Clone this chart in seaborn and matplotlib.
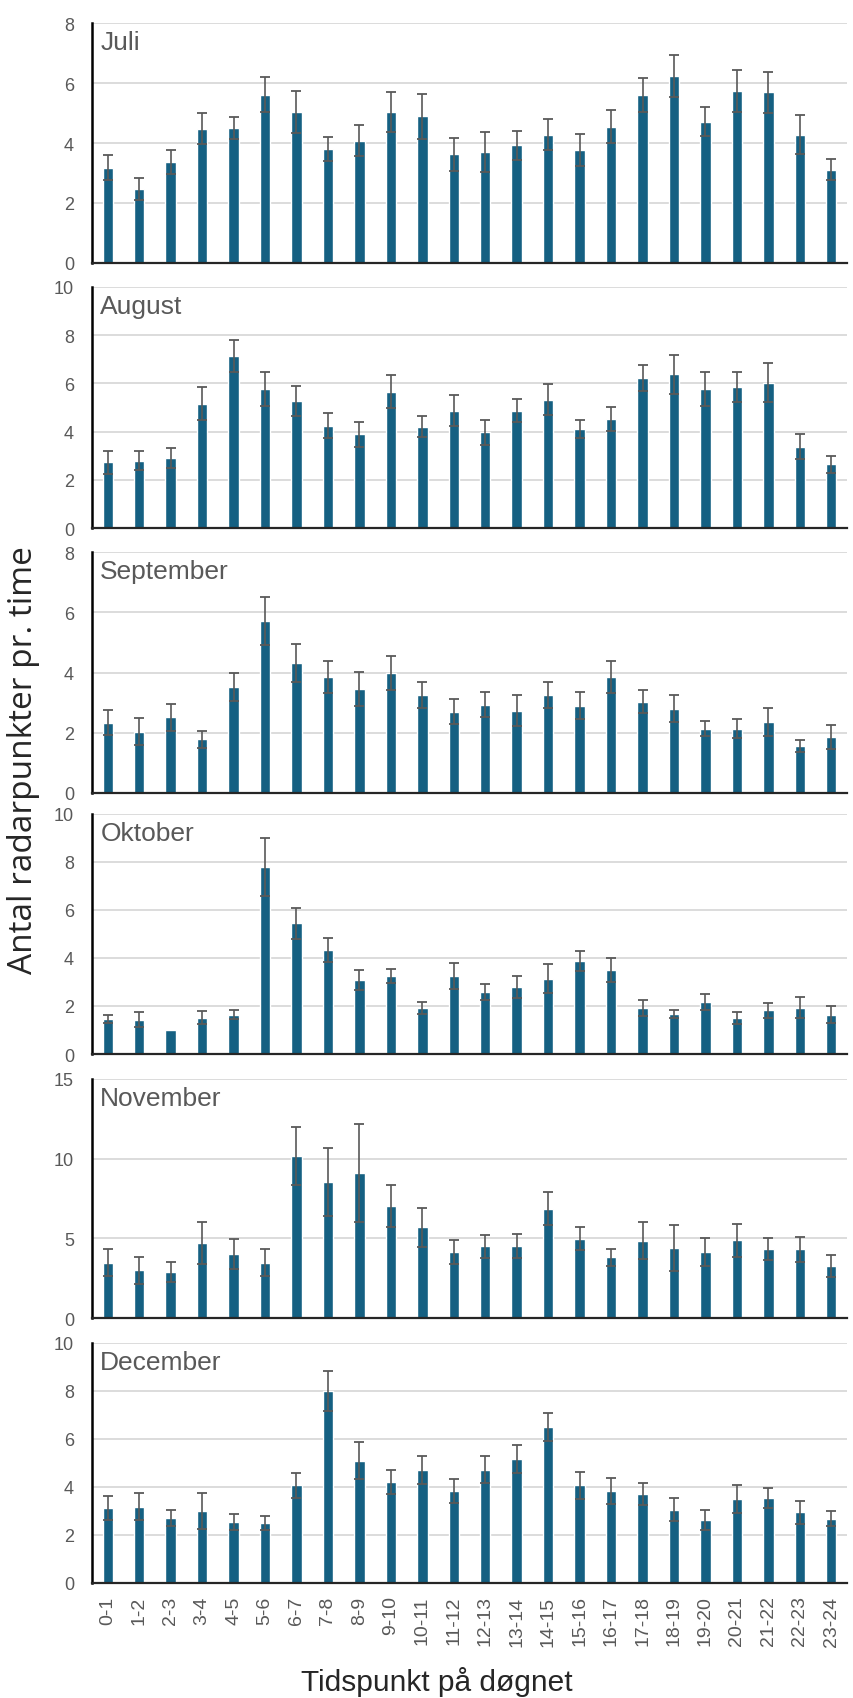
import matplotlib
matplotlib.use('Agg')
import matplotlib.pyplot as plt
import seaborn as sns
import numpy as np

sns.set_style('white')
plt.rcParams['font.family'] = ['Liberation Sans', 'DejaVu Sans']

hours = ['0-1', '1-2', '2-3', '3-4', '4-5', '5-6', '6-7', '7-8', '8-9', '9-10',
         '10-11', '11-12', '12-13', '13-14', '14-15', '15-16', '16-17', '17-18',
         '18-19', '19-20', '20-21', '21-22', '22-23', '23-24']

months = ['Juli', 'August', 'September', 'Oktober', 'November', 'December']

juli = [3.18, 2.47, 3.38, 4.48, 4.50, 5.61, 5.04, 3.81, 4.08, 5.04, 4.89, 3.62,
        3.69, 3.92, 4.28, 3.77, 4.54, 5.61, 6.24, 4.71, 5.74, 5.69, 4.28, 3.11]
juli_err = [0.42, 0.37, 0.40, 0.51, 0.37, 0.59, 0.71, 0.40, 0.52, 0.67, 0.75, 0.55,
            0.67, 0.48, 0.51, 0.53, 0.55, 0.57, 0.71, 0.49, 0.69, 0.68, 0.66, 0.35]

august = [2.72, 2.80, 2.91, 5.16, 7.14, 5.77, 5.26, 4.24, 3.88, 5.66, 4.20, 4.87,
          3.97, 4.87, 5.33, 4.12, 4.52, 6.24, 6.37, 5.77, 5.85, 6.03, 3.37, 2.64]
august_err = [0.47, 0.39, 0.43, 0.68, 0.65, 0.71, 0.62, 0.52, 0.53, 0.69, 0.43, 0.64,
              0.52, 0.48, 0.66, 0.37, 0.49, 0.54, 0.79, 0.72, 0.64, 0.81, 0.51, 0.34]

september = [2.33, 2.03, 2.52, 1.79, 3.52, 5.70, 4.30, 3.86, 3.46, 3.98, 3.25, 2.70,
             2.93, 2.73, 3.25, 2.90, 3.86, 3.03, 2.80, 2.14, 2.14, 2.36, 1.57, 1.86]
september_err = [0.41, 0.45, 0.45, 0.28, 0.47, 0.80, 0.63, 0.53, 0.56, 0.56, 0.44, 0.42,
                 0.41, 0.52, 0.44, 0.44, 0.53, 0.38, 0.44, 0.26, 0.30, 0.47, 0.20, 0.39]

oktober = [1.46, 1.43, 1.01, 1.51, 1.64, 7.78, 5.44, 4.34, 3.07, 3.25, 1.91, 3.26,
           2.59, 2.80, 3.13, 3.87, 3.50, 1.93, 1.68, 2.18, 1.51, 1.82, 1.93, 1.64]
oktober_err = [0.18, 0.32, np.nan, 0.28, 0.20, 1.21, 0.63, 0.51, 0.41, 0.31, 0.24, 0.55,
               0.32, 0.47, 0.60, 0.43, 0.52, 0.34, 0.16, 0.34, 0.24, 0.30, 0.43, 0.36]

november = [3.47, 2.99, 2.88, 4.68, 4.01, 3.47, 10.19, 8.56, 9.11, 7.02, 5.68, 4.14,
            4.49, 4.51, 6.87, 4.97, 3.82, 4.85, 4.39, 4.14, 4.87, 4.32, 4.30, 3.28]
november_err = [0.83, 0.85, 0.61, 1.32, 0.92, 0.83, 1.82, 2.14, 3.09, 1.32, 1.21, 0.75,
                0.75, 0.75, 1.05, 0.71, 0.53, 1.15, 1.42, 0.87, 1.02, 0.69, 0.78, 0.69]

december = [3.14, 3.18, 2.72, 2.99, 2.54, 2.51, 4.07, 8.00, 5.10, 4.21, 4.71, 3.82,
            4.72, 5.18, 6.50, 4.07, 3.82, 3.71, 3.06, 2.64, 3.50, 3.54, 2.94, 2.68]
december_err = [0.50, 0.57, 0.34, 0.75, 0.34, 0.30, 0.53, 0.83, 0.78, 0.50, 0.60, 0.50,
                0.57, 0.58, 0.58, 0.57, 0.54, 0.46, 0.47, 0.42, 0.58, 0.42, 0.49, 0.31]

values = [juli, august, september, oktober, november, december]
errors = [juli_err, august_err, september_err, oktober_err, november_err, december_err]
ymax = [8, 10, 8, 10, 15, 10]
ystep = [2, 2, 2, 2, 5, 2]

# pixel rows (top, bottom) of each panel in the 854x1699 picture
rows = [(24, 264), (288, 529), (553, 794), (815, 1055), (1080, 1319), (1344, 1584)]

W, H = 854, 1699
fig = plt.figure(figsize=(W / 100, H / 100), dpi=100)

bar_col = '#156082'
grey = '#595959'

for i, (name, vals, errs) in enumerate(zip(months, values, errors)):
    top, bot = rows[i]
    ax = fig.add_axes([92 / W, 1 - bot / H, 755 / W, (bot - top) / H])
    sns.barplot(x=hours, y=vals, color=bar_col, saturation=1, width=0.33, ax=ax)
    ax.errorbar(np.arange(len(hours)), vals, yerr=errs, fmt='none', ecolor=grey,
                elinewidth=1.2, capsize=3.5, capthick=1.3, zorder=3)
    ax.set_ylim(0, ymax[i])
    ax.set_yticks(np.arange(0, ymax[i] + 1, ystep[i]))
    ax.set_xlim(-0.5, len(hours) - 0.5)
    ax.yaxis.grid(True, color='#d9d9d9', lw=1.3)
    ax.set_axisbelow(True)
    for s in ['top', 'right']:
        ax.spines[s].set_visible(False)
    ax.spines['left'].set_color('black')
    ax.spines['left'].set_linewidth(1.8)
    ax.spines['bottom'].set_color('#262626')
    ax.spines['bottom'].set_linewidth(1.6)
    ax.tick_params(axis='y', length=0, pad=13, labelsize=13, labelcolor=grey)
    ax.tick_params(axis='x', length=0, pad=9, labelsize=14, labelcolor=grey,
                   labelrotation=90)
    if i < len(months) - 1:
        ax.set_xticklabels([])
    ax.set_xlabel('')
    ax.set_ylabel('')
    ax.text(0.011, 0.97, name, transform=ax.transAxes, ha='left', va='top',
            fontsize=19, color=grey)

fig.text(24 / W, 1 - 760 / H, 'Antal radarpunkter pr. time', rotation=90,
         ha='center', va='center', fontsize=24, family=['Open Sans', 'DejaVu Sans'])
fig.text(437 / W, 1 - 1682 / H, 'Tidspunkt på døgnet', ha='center', va='center',
         fontsize=21.5)

fig.savefig('out.png', dpi=100)
